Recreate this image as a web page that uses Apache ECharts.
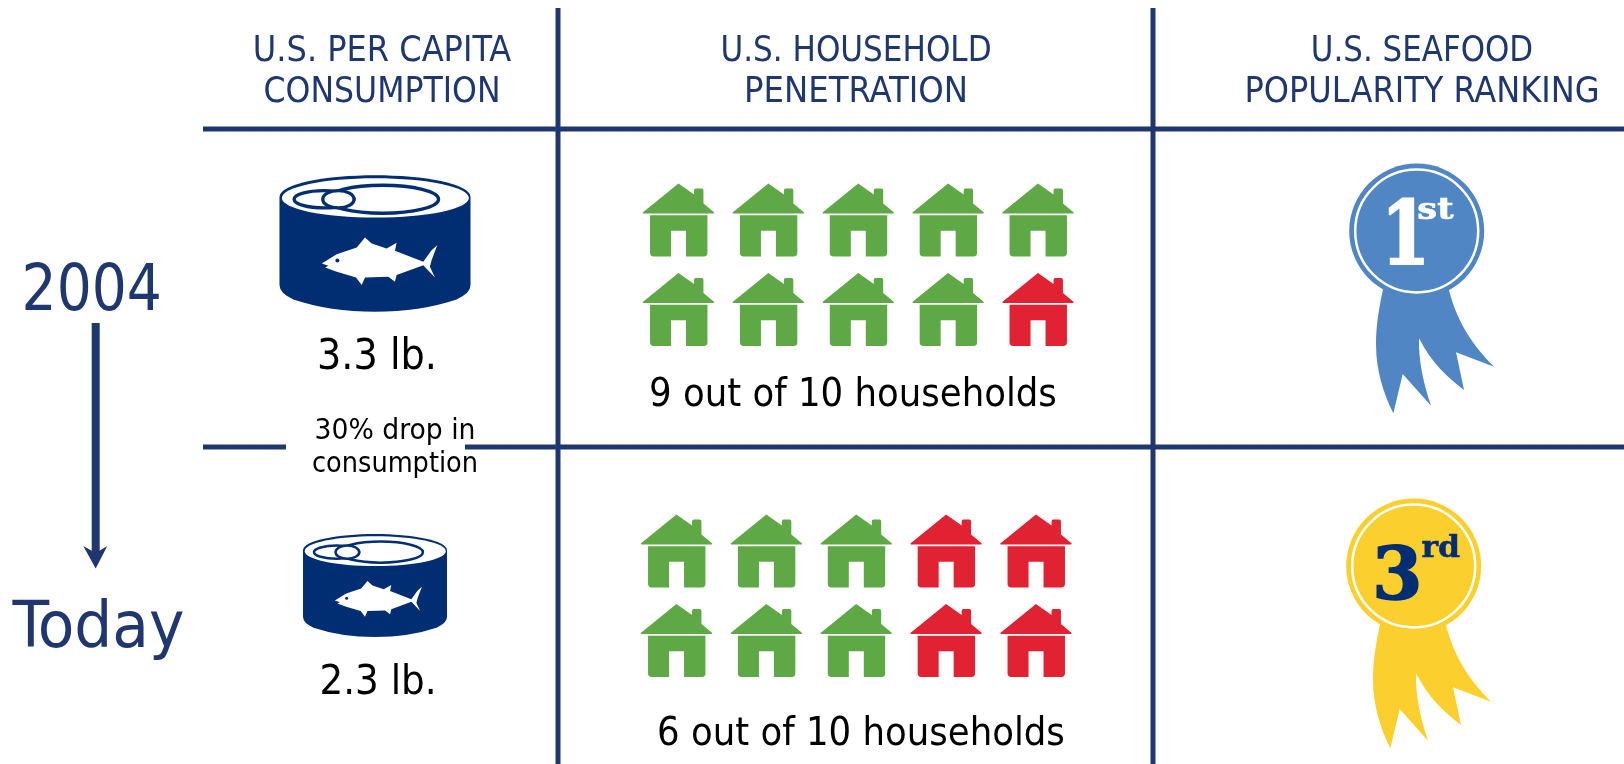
<!DOCTYPE html>
<html>
<head>
<meta charset="utf-8">
<title>Seafood consumption</title>
<script src="https://cdn.jsdelivr.net/npm/echarts@6/dist/echarts.min.js"></script>
<style>
html, body { margin: 0; padding: 0; background: #fff; }
#main { width: 1624px; height: 764px; }
</style>
</head>
<body>
<div id="main"></div>
<script>
// data
var periods = ['2004', 'Today'];
var consumptionLb = [3.3, 2.3];
var householdsBuying = [9, 6];   // out of 10
var popularityRank = [1, 3];
var rankSuffix = ['st', 'rd'];
var columnHeads = [
	['U.S. PER CAPITA', 'CONSUMPTION'],
	['U.S. HOUSEHOLD', 'PENETRATION'],
	['U.S. SEAFOOD', 'POPULARITY RANKING']
];

var NAVY = '#1f3770';
var CAN = '#012e73';
var GREEN = '#5ea846';
var RED = '#e02233';
var RIBBON = ['#4f86c3', '#fbd02e'];
var RIBBON_TEXT = ['#ffffff', '#012e73'];
var FONT = '"DejaVu Sans Condensed", Tahoma, "DejaVu Sans", sans-serif';
var SERIF = '"DejaVu Serif", serif';

var HOUSE = 'path://M35.7 0L51.3 11L51.3 7Q51.3 5 53 5L59 5Q60.7 5 60.7 7L60.7 20L71.5 29L71 30L.5 30L0 29Z'
	+ 'M7.3 31.5L64.7 31.5L64.7 69Q64.7 72.7 61 72.7L43.3 72.7L43.3 47L28.3 47L28.3 72.7L11 72.7Q7.3 72.7 7.3 69Z';

// order the houses get coloured in: [column, row]
var houseSlots2004 = [[0, 0], [1, 0], [2, 0], [3, 0], [4, 0], [0, 1], [1, 1], [2, 1], [3, 1], [4, 1]];
var houseSlotsToday = [[0, 0], [0, 1], [1, 0], [1, 1], [2, 0], [2, 1], [3, 0], [3, 1], [4, 0], [4, 1]];

function houseData(slots, green) {
	var out = [];
	for (var i = 0; i < slots.length; i++) {
		out.push({
			value: slots[i],
			itemStyle: { color: i < green ? GREEN : RED, opacity: 1 }
		});
	}
	return out;
}

function text(x, y, str, size, color, scaleX) {
	var el = {
		type: 'text',
		x: x,
		y: y,
		silent: true,
		style: {
			text: str,
			fill: color,
			font: size + 'px ' + FONT,
			textAlign: 'center',
			textVerticalAlign: 'middle'
		}
	};
	if (scaleX) {
		el.scaleX = scaleX;
	}
	return el;
}

function bar(x, y, w, h) {
	return { type: 'rect', silent: true, shape: { x: x, y: y, width: w, height: h }, style: { fill: NAVY } };
}

function renderCan(params, api) {
	var i = params.dataIndex;
	var pt = api.coord([0, i]);
	var s = [0.3328, 0.2509][i];
	return {
		type: 'group',
		x: pt[0] - 345 * s,
		y: pt[1] - 250 * s,
		scaleX: s,
		scaleY: s,
		children: [
			{
				type: 'path',
				shape: {
					pathData: 'M58 110C58 70 200 45 345 45C490 45 632 70 632 110L632 375Q632 400 590 418Q480 455 345 455Q210 455 100 418Q58 400 58 375Z',
					x: 58, y: 45, width: 574, height: 410, layout: 'cover'
				},
				style: { fill: CAN }
			},
			{ type: 'ellipse', shape: { cx: 346, cy: 113, rx: 281, ry: 59 }, style: { fill: '#fff' } },
			{ type: 'ellipse', shape: { cx: 368, cy: 117, rx: 168, ry: 42 }, style: { fill: 'none', stroke: CAN, lineWidth: 10 } },
			{ type: 'ellipse', shape: { cx: 192, cy: 117, rx: 90, ry: 26 }, style: { fill: '#fff', stroke: CAN, lineWidth: 10 } },
			{ type: 'ellipse', shape: { cx: 235, cy: 117, rx: 47, ry: 26 }, style: { fill: '#fff', stroke: CAN, lineWidth: 10 } },
			{
				type: 'polygon',
				shape: {
					points: [[185, 310], [230, 282], [290, 262], [315, 232], [335, 250], [380, 265], [410, 248], [405, 272], [490, 305],
						[515, 270], [532, 255], [515, 300], [510, 320], [525, 352], [490, 315], [410, 345], [405, 365], [385, 350],
						[315, 352], [305, 375], [288, 352], [230, 335], [195, 322], [205, 317]]
				},
				style: { fill: '#fff' }
			},
			{ type: 'circle', shape: { cx: 232, cy: 301, r: 6 }, style: { fill: CAN } }
		]
	};
}

function rankText(x, y, str, size, color, scaleX, stroke) {
	return {
		type: 'text',
		x: x,
		y: y,
		scaleX: scaleX,
		style: {
			text: str,
			fill: color,
			stroke: color,
			lineWidth: stroke,
			font: 'bold ' + size + 'px ' + SERIF,
			textAlign: 'left',
			textVerticalAlign: 'middle'
		}
	};
}

function renderRibbon(params, api) {
	var i = params.dataIndex;
	var pt = api.coord([0, i]);
	var s = 1 / 3;
	var col = RIBBON[i];
	var txt = RIBBON_TEXT[i];
	var num = i === 0
		? rankText(-35.8, 10.2, String(popularityRank[i]), 87, txt, 0.81, 2)
		: rankText(-41.5, 14, String(popularityRank[i]), 72, txt, 1, 1.6);
	var suffix = i === 0
		? rankText(0.5, -20, rankSuffix[i], 30, txt, 1.18, 0.7)
		: rankText(7.7, -16.5, rankSuffix[i], 30, txt, 1.05, 0.5);
	return {
		type: 'group',
		x: pt[0] + [0, -3][i],
		y: pt[1],
		children: [
			{
				type: 'path',
				shape: {
					pathData: 'M163 400C145 480 138 530 138 585C138 660 160 730 190 790L218 672L303 767C280 700 265 630 267 565C305 640 350 680 402 720L378 607L492 650C430 590 375 510 352 400Z',
					x: (138 - 260) * s, y: (400 - 243) * s, width: 354 * s, height: 390 * s, layout: 'cover'
				},
				style: { fill: col }
			},
			{ type: 'circle', shape: { cx: 0, cy: 0, r: 67.5 }, style: { fill: col } },
			{ type: 'circle', shape: { cx: 0, cy: 0, r: 61.5 }, style: { fill: 'none', stroke: '#fff', lineWidth: 2.5 } },
			num,
			suffix
		]
	};
}

var graphics = [
	bar(555.5, 8, 5, 756),
	bar(1150.5, 8, 5, 756),
	bar(203, 126.5, 1421, 5),
	bar(203, 444.5, 83, 5),
	bar(465, 444.5, 1159, 5),
	bar(91.7, 323, 8, 232),
	{
		type: 'polygon',
		silent: true,
		shape: { points: [[83.3, 546], [95.7, 553], [107.3, 546], [95.7, 568.5]] },
		style: { fill: NAVY }
	},
	text(91.7, 293, periods[0], 64, NAVY, 0.957),
	text(98.4, 630, periods[1], 64, NAVY, 1.04),
	text(382, 51.5, columnHeads[0][0], 36, NAVY, 0.99),
	text(382, 93, columnHeads[0][1], 36, NAVY, 0.975),
	text(856, 51.5, columnHeads[1][0], 36, NAVY, 0.96),
	text(856, 93, columnHeads[1][1], 36, NAVY),
	text(1422, 51.5, columnHeads[2][0], 36, NAVY, 0.955),
	text(1422, 93, columnHeads[2][1], 36, NAVY, 0.99),
	text(377, 358, consumptionLb[0].toFixed(1) + ' lb.', 42.5, '#000'),
	text(378, 683, consumptionLb[1].toFixed(1) + ' lb.', 41.5, '#000'),
	text(395, 432, '30% drop in', 28.5, '#000', 1.04),
	text(395, 465, 'consumption', 28.5, '#000'),
	text(853, 396, householdsBuying[0] + ' out of 10 households', 39.5, '#000'),
	text(861, 735, householdsBuying[1] + ' out of 10 households', 39.5, '#000')
];

function hiddenValue(gridIndex, min, max, inverse) {
	return { type: 'value', show: false, gridIndex: gridIndex, min: min, max: max, inverse: !!inverse };
}

var option = {
	animation: false,
	backgroundColor: '#fff',
	grid: [
		{ left: 678.5, width: 359.5, top: 220, height: 89.5 },
		{ left: 676.5, width: 359.5, top: 551, height: 89.5 },
		{ left: 325, width: 100, top: 72.5, height: 684 },
		{ left: 1366.7, width: 100, top: 63.5, height: 670 }
	],
	xAxis: [
		hiddenValue(0, 0, 4),
		hiddenValue(1, 0, 4),
		{ type: 'category', show: false, gridIndex: 2, data: ['can'] },
		{ type: 'category', show: false, gridIndex: 3, data: ['ribbon'] }
	],
	yAxis: [
		hiddenValue(0, 0, 1, true),
		hiddenValue(1, 0, 1, true),
		{ type: 'category', show: false, gridIndex: 2, data: periods, inverse: true },
		{ type: 'category', show: false, gridIndex: 3, data: periods, inverse: true }
	],
	series: [
		{
			type: 'scatter',
			xAxisIndex: 0,
			yAxisIndex: 0,
			symbol: HOUSE,
			symbolSize: [71.5, 73],
			symbolKeepAspect: false,
			silent: true,
			data: houseData(houseSlots2004, householdsBuying[0])
		},
		{
			type: 'scatter',
			xAxisIndex: 1,
			yAxisIndex: 1,
			symbol: HOUSE,
			symbolSize: [71.5, 73],
			symbolKeepAspect: false,
			silent: true,
			data: houseData(houseSlotsToday, householdsBuying[1])
		},
		{
			type: 'custom',
			xAxisIndex: 2,
			yAxisIndex: 2,
			silent: true,
			renderItem: renderCan,
			data: consumptionLb.map(function (v, i) { return [0, i, v]; })
		},
		{
			type: 'custom',
			xAxisIndex: 3,
			yAxisIndex: 3,
			silent: true,
			renderItem: renderRibbon,
			data: popularityRank.map(function (v, i) { return [0, i, v]; })
		}
	],
	graphic: graphics
};

var chart = echarts.init(document.getElementById('main'), null, { renderer: 'canvas' });
chart.setOption(option);
</script>
</body>
</html>
